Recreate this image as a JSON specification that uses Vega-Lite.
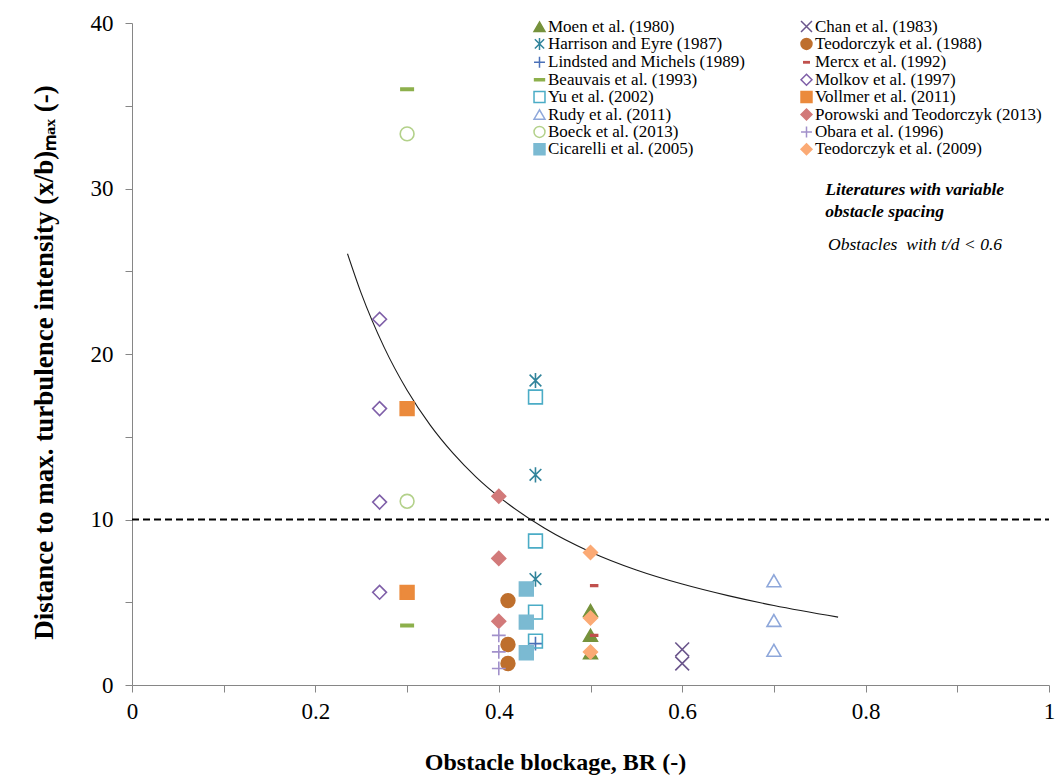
{
  "$schema": "https://vega.github.io/schema/vega-lite/v6.json",
  "autosize": "none",
  "width": 917,
  "height": 662,
  "padding": {"left": 132, "top": 23, "right": 13, "bottom": 95},
  "background": "white",
  "config": {
    "view": {"stroke": null},
    "font": "Liberation Serif",
    "style": {"guide-label": {"font": "Liberation Serif"}},
    "legend": {
      "orient": "none",
      "legendX": 399,
      "legendY": -5,
      "columns": 2,
      "labelFont": "Liberation Serif",
      "labelFontSize": 17,
      "labelColor": "black",
      "symbolSize": 120,
      "symbolStrokeWidth": 1.5,
      "rowPadding": -0.6,
      "columnPadding": 53,
      "labelLimit": 400,
      "labelOffset": 0,
      "padding": 0
    }
  },
  "encoding": {
    "x": {
      "field": "x", "type": "quantitative",
      "scale": {"domain": [0, 1], "nice": false, "zero": false},
      "axis": {
        "values": [0, 0.1, 0.2, 0.3, 0.4, 0.5, 0.6, 0.7, 0.8, 0.9, 1],
        "labelExpr": "round(datum.value*10) % 2 == 0 ? format(datum.value, '~g') : ''",
        "labelOverlap": false,
        "labelFlush": false,
        "grid": false,
        "domainColor": "#868686",
        "tickColor": "#868686",
        "tickSize": 7,
        "labelFont": "Liberation Serif",
        "labelFontSize": 23,
        "labelColor": "black",
        "labelPadding": 8,
        "title": "Obstacle blockage, BR (-)",
        "titleFont": "Liberation Serif",
        "titleFontSize": 24,
        "titleFontWeight": "bold",
        "titleColor": "black",
        "titleX": 423,
        "titleY": 84,
        "titleBaseline": "alphabetic"
      }
    },
    "y": {
      "field": "y", "type": "quantitative",
      "scale": {"domain": [0, 40], "nice": false},
      "axis": {
        "values": [0, 5, 10, 15, 20, 25, 30, 35, 40],
        "labelExpr": "datum.value % 10 == 0 ? format(datum.value, '~g') : ''",
        "labelOverlap": false,
        "grid": false,
        "domainColor": "#868686",
        "tickColor": "#868686",
        "tickSize": 7,
        "labelFont": "Liberation Serif",
        "labelFontSize": 23,
        "labelColor": "black",
        "labelPadding": 12,
        "title": "Distance to max. turbulence intensity (x/b)ₘₐₓ (-)",
        "titleFont": "Liberation Serif",
        "titleFontSize": 27,
        "titleFontWeight": "bold",
        "titleColor": "black",
        "titleX": -88,
        "titleY": 339,
        "titleBaseline": "middle",
        "titleAngle": -90
      }
    }
  },
  "layer": [
    {
      "data": {"values": [{"x": 0, "y": 10}, {"x": 1, "y": 10}]},
      "mark": {"type": "line", "color": "black", "strokeWidth": 1.8, "strokeDash": [7, 4]}
    },
    {
      "data": {"values": [
        {"x": 0.235, "y": 26.06}, {"x": 0.25, "y": 23.66}, {"x": 0.275, "y": 20.4},
        {"x": 0.3, "y": 17.81}, {"x": 0.325, "y": 15.72}, {"x": 0.35, "y": 14.01},
        {"x": 0.375, "y": 12.58}, {"x": 0.4, "y": 11.38}, {"x": 0.45, "y": 9.47},
        {"x": 0.5, "y": 8.04}, {"x": 0.55, "y": 6.95}, {"x": 0.6, "y": 6.1},
        {"x": 0.65, "y": 5.4}, {"x": 0.7, "y": 4.8}, {"x": 0.77, "y": 4.1}
      ]},
      "mark": {"type": "line", "color": "#1a1a1a", "strokeWidth": 1.1, "interpolate": "monotone"}
    },
    {
      "data": {"values": [
        {"s": "Moen et al. (1980)", "x": 0.5, "y": 4.5},
        {"s": "Moen et al. (1980)", "x": 0.5, "y": 3.0},
        {"s": "Moen et al. (1980)", "x": 0.5, "y": 1.95},
        {"s": "Chan et al. (1983)", "x": 0.6, "y": 2.15},
        {"s": "Chan et al. (1983)", "x": 0.6, "y": 1.3},
        {"s": "Harrison and Eyre (1987)", "x": 0.44, "y": 18.4},
        {"s": "Harrison and Eyre (1987)", "x": 0.44, "y": 12.7},
        {"s": "Harrison and Eyre (1987)", "x": 0.44, "y": 6.4},
        {"s": "Teodorczyk et al. (1988)", "x": 0.41, "y": 5.1},
        {"s": "Teodorczyk et al. (1988)", "x": 0.41, "y": 2.45},
        {"s": "Teodorczyk et al. (1988)", "x": 0.41, "y": 1.3},
        {"s": "Lindsted and Michels (1989)", "x": 0.44, "y": 2.5},
        {"s": "Mercx et al. (1992)", "x": 0.504, "y": 6.0},
        {"s": "Mercx et al. (1992)", "x": 0.504, "y": 3.0},
        {"s": "Beauvais et al. (1993)", "x": 0.3, "y": 36.0},
        {"s": "Beauvais et al. (1993)", "x": 0.3, "y": 3.6},
        {"s": "Molkov et al. (1997)", "x": 0.27, "y": 22.1},
        {"s": "Molkov et al. (1997)", "x": 0.27, "y": 16.7},
        {"s": "Molkov et al. (1997)", "x": 0.27, "y": 11.05},
        {"s": "Molkov et al. (1997)", "x": 0.27, "y": 5.6},
        {"s": "Yu et al. (2002)", "x": 0.44, "y": 17.4},
        {"s": "Yu et al. (2002)", "x": 0.44, "y": 8.7},
        {"s": "Yu et al. (2002)", "x": 0.44, "y": 4.4},
        {"s": "Yu et al. (2002)", "x": 0.44, "y": 2.65},
        {"s": "Vollmer et al. (2011)", "x": 0.3, "y": 16.7},
        {"s": "Vollmer et al. (2011)", "x": 0.3, "y": 5.6},
        {"s": "Rudy et al. (2011)", "x": 0.7, "y": 6.3},
        {"s": "Rudy et al. (2011)", "x": 0.7, "y": 3.9},
        {"s": "Rudy et al. (2011)", "x": 0.7, "y": 2.1},
        {"s": "Porowski and Teodorczyk (2013)", "x": 0.4, "y": 11.4},
        {"s": "Porowski and Teodorczyk (2013)", "x": 0.4, "y": 7.65},
        {"s": "Porowski and Teodorczyk (2013)", "x": 0.4, "y": 3.85},
        {"s": "Boeck et al. (2013)", "x": 0.3, "y": 33.3},
        {"s": "Boeck et al. (2013)", "x": 0.3, "y": 11.1},
        {"s": "Obara et al. (1996)", "x": 0.4, "y": 3.0},
        {"s": "Obara et al. (1996)", "x": 0.4, "y": 2.0},
        {"s": "Obara et al. (1996)", "x": 0.4, "y": 1.0},
        {"s": "Cicarelli et al. (2005)", "x": 0.43, "y": 5.8},
        {"s": "Cicarelli et al. (2005)", "x": 0.43, "y": 3.8},
        {"s": "Cicarelli et al. (2005)", "x": 0.43, "y": 1.95},
        {"s": "Teodorczyk et al. (2009)", "x": 0.5, "y": 8.0},
        {"s": "Teodorczyk et al. (2009)", "x": 0.5, "y": 4.05},
        {"s": "Teodorczyk et al. (2009)", "x": 0.5, "y": 2.0}
      ]},
      "mark": {"type": "point", "size": 190, "strokeWidth": 1.6, "opacity": 1},
      "encoding": {
        "shape": {
          "field": "s", "type": "nominal",
          "scale": {
            "domain": ["Moen et al. (1980)", "Harrison and Eyre (1987)", "Lindsted and Michels (1989)", "Beauvais et al. (1993)", "Yu et al. (2002)", "Rudy et al. (2011)", "Boeck et al. (2013)", "Cicarelli et al. (2005)", "Chan et al. (1983)", "Teodorczyk et al. (1988)", "Mercx et al. (1992)", "Molkov et al. (1997)", "Vollmer et al. (2011)", "Porowski and Teodorczyk (2013)", "Obara et al. (1996)", "Teodorczyk et al. (2009)"],
            "range": ["triangle-up", "M-0.85,-0.85L0.85,0.85M-0.85,0.85L0.85,-0.85M0,-1.1L0,1.1", "M-1,0L1,0M0,-1L0,1", "M-0.9,-0.17L0.9,-0.17L0.9,0.17L-0.9,0.17Z", "square", "triangle-up", "circle", "square", "M-1,-1L1,1M-1,1L1,-1", "circle", "M-0.5,-0.12L0.5,-0.12L0.5,0.12L-0.5,0.12Z", "diamond", "square", "diamond", "M-1,0L1,0M0,-1L0,1", "diamond"]
          },
          "legend": {"title": null, "labelFont": "Liberation Serif", "labelFontSize": 17}
        },
        "fill": {
          "field": "s", "type": "nominal",
          "scale": {
            "domain": ["Moen et al. (1980)", "Harrison and Eyre (1987)", "Lindsted and Michels (1989)", "Beauvais et al. (1993)", "Yu et al. (2002)", "Rudy et al. (2011)", "Boeck et al. (2013)", "Cicarelli et al. (2005)", "Chan et al. (1983)", "Teodorczyk et al. (1988)", "Mercx et al. (1992)", "Molkov et al. (1997)", "Vollmer et al. (2011)", "Porowski and Teodorczyk (2013)", "Obara et al. (1996)", "Teodorczyk et al. (2009)"],
            "range": ["#76923C", "transparent", "transparent", "#8DB04C", "transparent", "transparent", "transparent", "#7BBAD2", "transparent", "#BE6F2D", "#C0504D", "transparent", "#EB8A3C", "#D27A7A", "transparent", "#FBAA75"]
          },
          "legend": {"title": null, "labelFont": "Liberation Serif", "labelFontSize": 17}
        },
        "stroke": {
          "field": "s", "type": "nominal",
          "scale": {
            "domain": ["Moen et al. (1980)", "Harrison and Eyre (1987)", "Lindsted and Michels (1989)", "Beauvais et al. (1993)", "Yu et al. (2002)", "Rudy et al. (2011)", "Boeck et al. (2013)", "Cicarelli et al. (2005)", "Chan et al. (1983)", "Teodorczyk et al. (1988)", "Mercx et al. (1992)", "Molkov et al. (1997)", "Vollmer et al. (2011)", "Porowski and Teodorczyk (2013)", "Obara et al. (1996)", "Teodorczyk et al. (2009)"],
            "range": ["#76923C", "#31849B", "#4A70B8", "#8DB04C", "#4BACC6", "#8EA7DA", "#B3D18A", "#7BBAD2", "#6B568C", "#BE6F2D", "#C0504D", "#7F5FA8", "#EB8A3C", "#D27A7A", "#A190CA", "#FBAA75"]
          },
          "legend": {"title": null, "labelFont": "Liberation Serif", "labelFontSize": 17}
        }
      }
    },
    {
      "data": {"values": [
        {"x": 0.756, "y": 29.9, "t": "Literatures with variable"},
        {"x": 0.756, "y": 28.58, "t": "obstacle spacing"}
      ]},
      "mark": {"type": "text", "align": "left", "baseline": "middle", "font": "Liberation Serif", "fontSize": 17.6, "fontStyle": "italic", "fontWeight": "bold", "color": "black"},
      "encoding": {"text": {"field": "t", "type": "nominal"}}
    },
    {
      "data": {"values": [
        {"x": 0.759, "y": 26.59, "t": "Obstacles\u00a0 with t/d < 0.6"}
      ]},
      "mark": {"type": "text", "align": "left", "baseline": "middle", "font": "Liberation Serif", "fontSize": 17.6, "fontStyle": "italic", "color": "black"},
      "encoding": {"text": {"field": "t", "type": "nominal"}}
    }
  ]
}
